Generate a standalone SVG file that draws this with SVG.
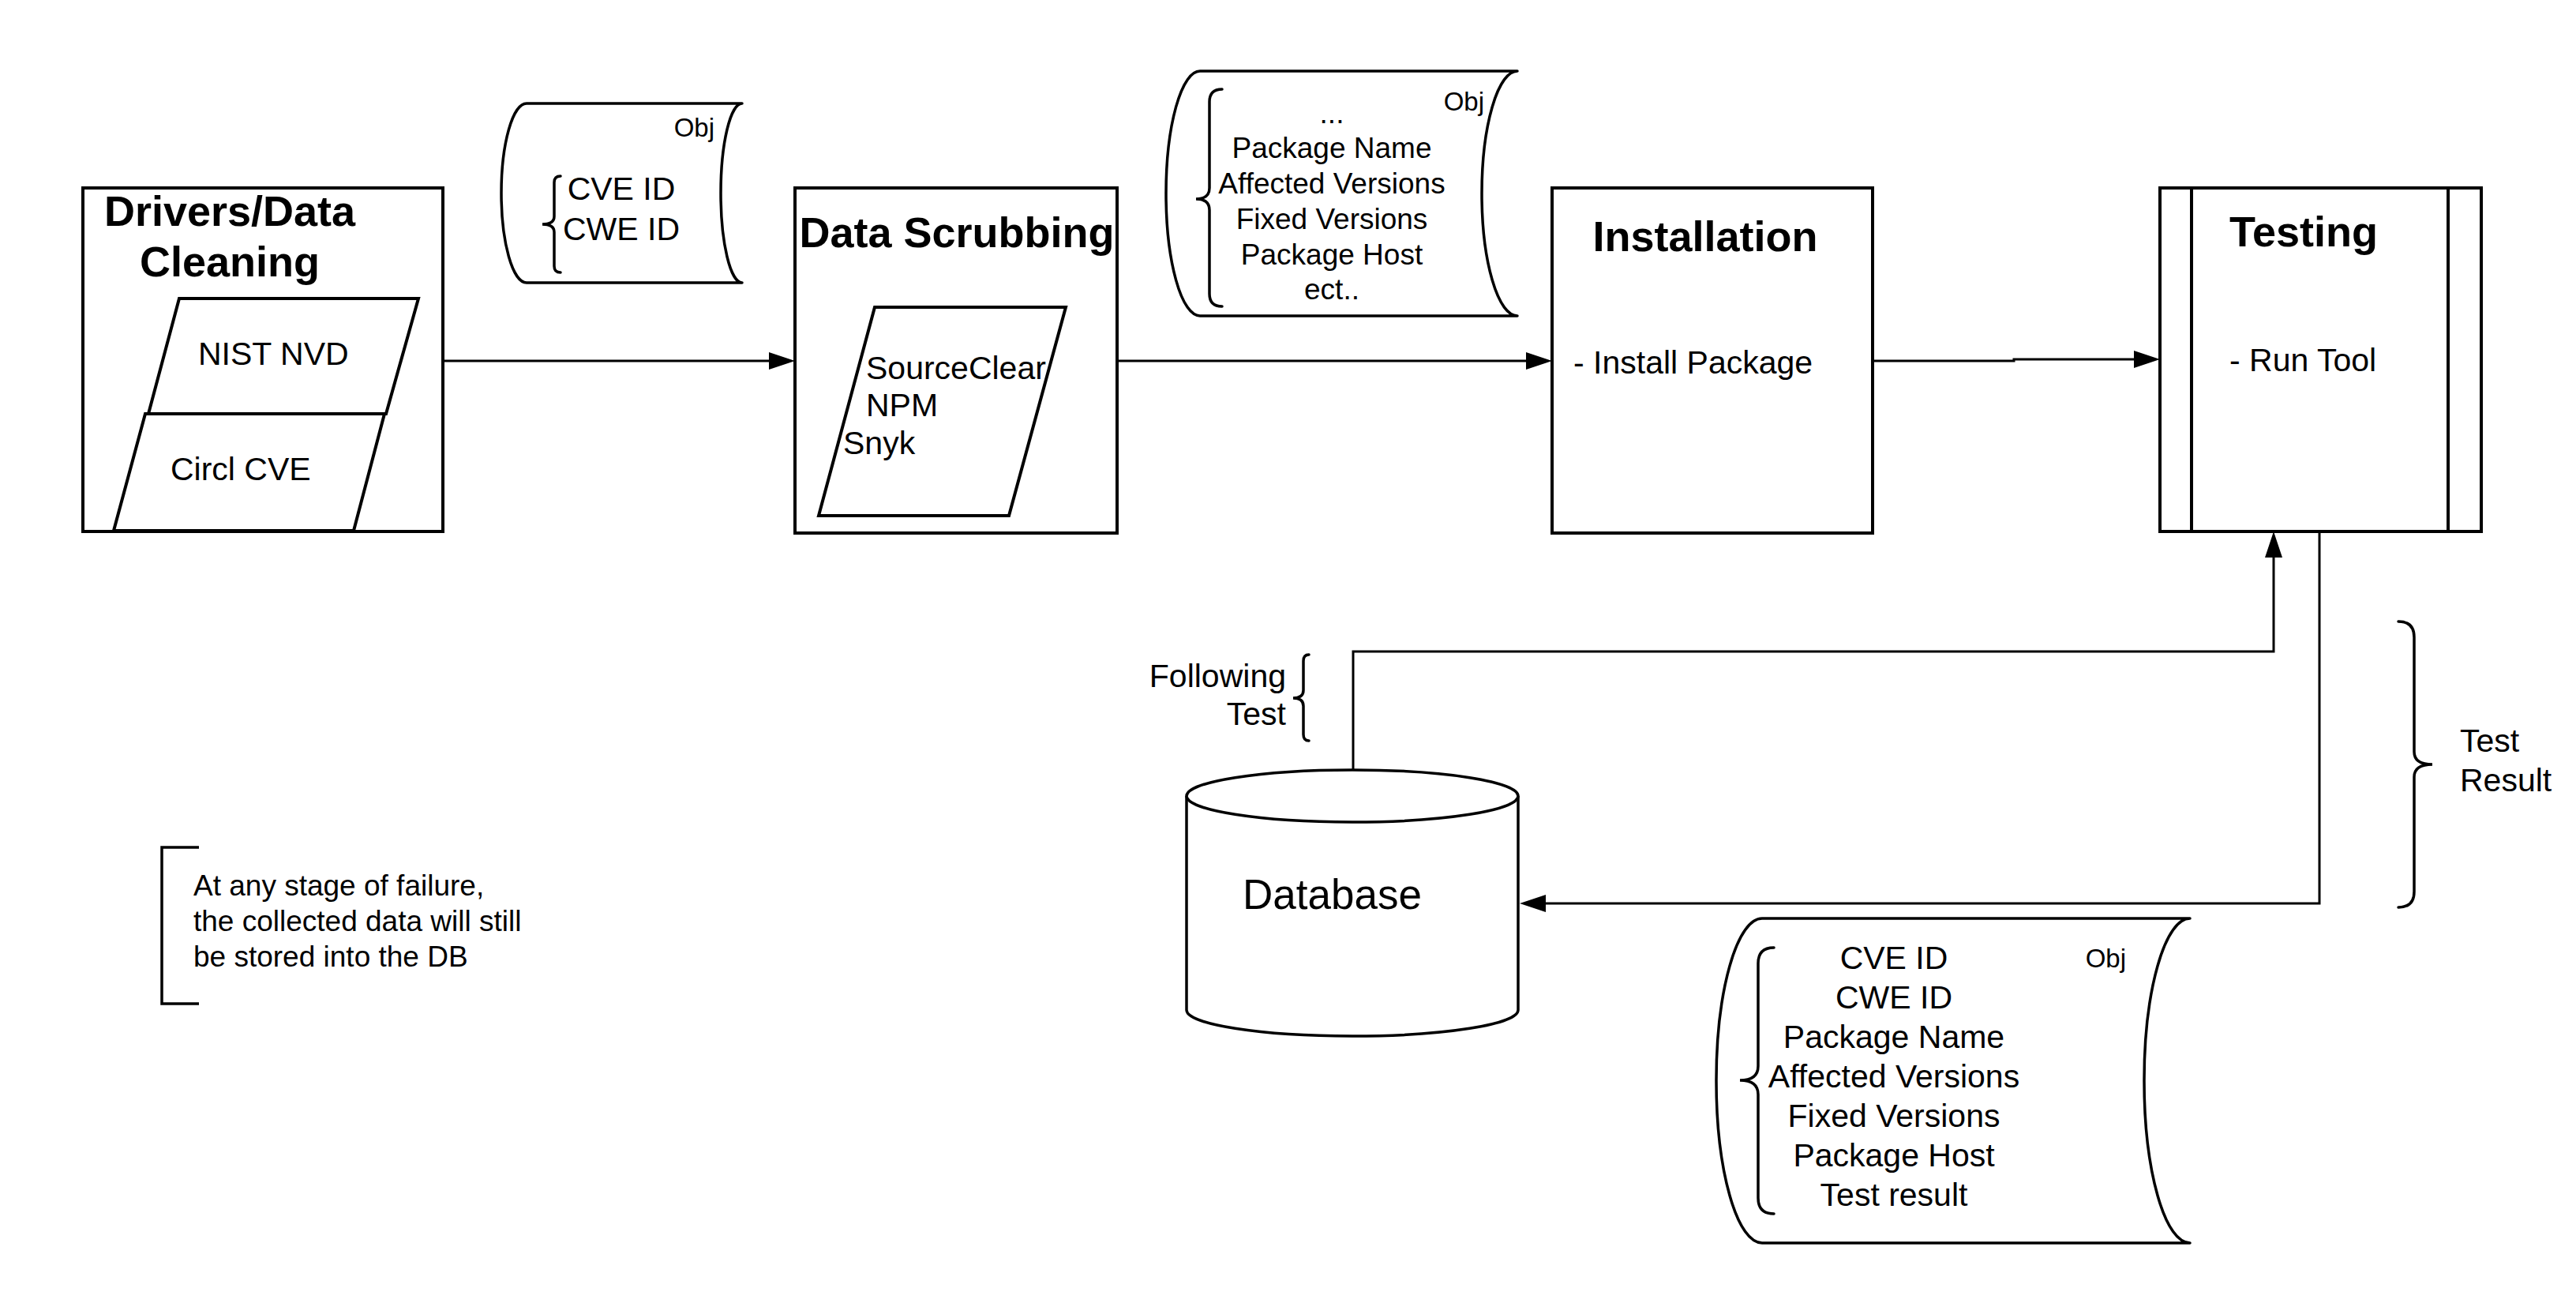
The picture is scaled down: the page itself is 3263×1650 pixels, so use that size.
<svg xmlns="http://www.w3.org/2000/svg" width="3263" height="1650" viewBox="0 0 3263 1650">
  <defs>
    <style>
      .box { fill: #fff; stroke: #000; stroke-width: 4; }
      .shape { fill: #fff; stroke: #000; stroke-width: 3.5; stroke-linejoin: round; }
      .brace { fill: none; stroke: #000; stroke-width: 3.5; stroke-linecap: round; }
      .conn { fill: none; stroke: #000; stroke-width: 3; }
      text { font-family: "Liberation Sans", Arial, sans-serif; fill: #000; }
      .title { font-size: 54px; font-weight: bold; }
      .body { font-size: 41px; }
      .mid { font-size: 37px; }
      .obj { font-size: 33px; }
      .c { text-anchor: middle; }
      .r { text-anchor: end; }
    </style>
    <marker id="arrow" markerUnits="userSpaceOnUse" markerWidth="34" markerHeight="24" refX="23" refY="11" orient="auto">
      <path d="M0,0 L33,11 L0,22 Z" fill="#000"/>
    </marker>
  </defs>
  <rect width="3263" height="1650" fill="#fff"/>

  <!-- connectors -->
  <g id="connectors">
    <path class="conn" d="M563,457 H997" marker-end="url(#arrow)"/>
    <path class="conn" d="M1417,457 H1956" marker-end="url(#arrow)"/>
    <path class="conn" d="M2374,457 H2551 V455 H2726" marker-end="url(#arrow)"/>
    <path class="conn" d="M1714,975 V825 H2880 V683" marker-end="url(#arrow)"/>
    <path class="conn" d="M2938,675 V1144 H1935" marker-end="url(#arrow)"/>
  </g>

  <!-- stage 1: drivers / data cleaning -->
  <g id="drivers">
    <rect class="box" x="105" y="238" width="456" height="435"/>
    <text class="title c" x="291" y="286">Drivers/Data</text>
    <text class="title c" x="291" y="350">Cleaning</text>
    <g id="nist-nvd">
      <polygon class="box" points="227,378 530,378 489,524 188,524"/>
      <text class="body" x="251" y="462">NIST NVD</text>
    </g>
    <g id="circl-cve">
      <polygon class="box" points="184,524 487,524 448,672 144,672"/>
      <text class="body" x="216" y="608">Circl CVE</text>
    </g>
  </g>

  <!-- object: ids -->
  <g id="obj-ids">
    <path class="shape" d="M667,131 H940 A27,113.5 0 0 0 940,358 H667 A32,113.5 0 0 1 667,131 Z"/>
    <text class="obj r" x="905" y="173">Obj</text>
    <path class="brace" d="M710,223 Q702,223 702,231 V274 Q702,284 687,284 Q702,284 702,294 V337 Q702,345 710,345"/>
    <text class="body c" x="787" y="253">CVE ID</text>
    <text class="body c" x="787" y="304">CWE ID</text>
  </g>

  <!-- stage 2: data scrubbing -->
  <g id="scrubbing">
    <rect class="box" x="1007" y="238" width="408" height="437"/>
    <text class="title c" x="1212" y="313">Data Scrubbing</text>
    <polygon class="box" points="1108,389 1350,389 1278,653 1037,653"/>
    <text class="body" x="1097" y="480">SourceClear</text>
    <text class="body" x="1097" y="527">NPM</text>
    <text class="body" x="1068" y="575">Snyk</text>
  </g>

  <!-- object: package data -->
  <g id="obj-package">
    <path class="shape" d="M1520,90 H1922 A45,155 0 0 0 1922,400 H1520 A43,155 0 0 1 1520,90 Z"/>
    <text class="obj r" x="1880" y="140">Obj</text>
    <path class="brace" d="M1548,113 Q1532,113 1532,129 V238 Q1532,252 1515,252 Q1532,252 1532,266 V372 Q1532,388 1548,388"/>
    <text class="mid c" x="1687" y="156">...</text>
    <text class="mid c" x="1687" y="200">Package Name</text>
    <text class="mid c" x="1687" y="245">Affected Versions</text>
    <text class="mid c" x="1687" y="290">Fixed Versions</text>
    <text class="mid c" x="1687" y="335">Package Host</text>
    <text class="mid c" x="1687" y="379">ect..</text>
  </g>

  <!-- stage 3: installation -->
  <g id="installation">
    <rect class="box" x="1966" y="238" width="406" height="437"/>
    <text class="title c" x="2160" y="318">Installation</text>
    <text class="body" x="1993" y="473">- Install Package</text>
  </g>

  <!-- stage 4: testing -->
  <g id="testing">
    <rect class="box" x="2736" y="238" width="407" height="435"/>
    <line class="box" x1="2776" y1="238" x2="2776" y2="673"/>
    <line class="box" x1="3101" y1="238" x2="3101" y2="673"/>
    <text class="title" x="2824" y="312">Testing</text>
    <text class="body" x="2824" y="470">- Run Tool</text>
  </g>

  <!-- database -->
  <g id="database">
    <path class="shape" d="M1503,1008 V1279 A210,33 0 0 0 1923,1279 V1008"/>
    <ellipse class="shape" cx="1713" cy="1008" rx="210" ry="33"/>
    <text class="body" style="font-size:53px" x="1574" y="1151">Database</text>
  </g>

  <!-- label: following test -->
  <g id="following-test">
    <text class="body r" x="1629" y="870">Following</text>
    <text class="body r" x="1629" y="918">Test</text>
    <path class="brace" d="M1658,829 Q1651,829 1651,837 V874 Q1651,884 1638,884 Q1651,884 1651,894 V930 Q1651,938 1658,938"/>
  </g>

  <!-- label: test result -->
  <g id="test-result">
    <path class="brace" d="M3038,787 Q3058,787 3058,807 V952 Q3058,968 3081,968 Q3058,968 3058,984 V1129 Q3058,1149 3038,1149"/>
    <text class="body" x="3116" y="952">Test</text>
    <text class="body" x="3116" y="1002">Result</text>
  </g>

  <!-- object: stored result -->
  <g id="obj-result">
    <path class="shape" d="M2232,1163 H2774 A58,205.5 0 0 0 2774,1574 H2232 A58,205.5 0 0 1 2232,1163 Z"/>
    <text class="obj r" x="2693" y="1225">Obj</text>
    <path class="brace" d="M2247,1200 Q2227,1200 2227,1220 V1350 Q2227,1368 2204,1368 Q2227,1368 2227,1386 V1517 Q2227,1537 2247,1537"/>
    <text class="body c" x="2399" y="1227">CVE ID</text>
    <text class="body c" x="2399" y="1277">CWE ID</text>
    <text class="body c" x="2399" y="1327">Package Name</text>
    <text class="body c" x="2399" y="1377">Affected Versions</text>
    <text class="body c" x="2399" y="1427">Fixed Versions</text>
    <text class="body c" x="2399" y="1477">Package Host</text>
    <text class="body c" x="2399" y="1527">Test result</text>
  </g>

  <!-- note -->
  <g id="note">
    <path class="brace" style="stroke-linecap:butt" d="M252,1073 H205 V1271 H252"/>
    <text class="mid" x="245" y="1134">At any stage of failure,</text>
    <text class="mid" x="245" y="1179">the collected data will still</text>
    <text class="mid" x="245" y="1224">be stored into the DB</text>
  </g>
</svg>
